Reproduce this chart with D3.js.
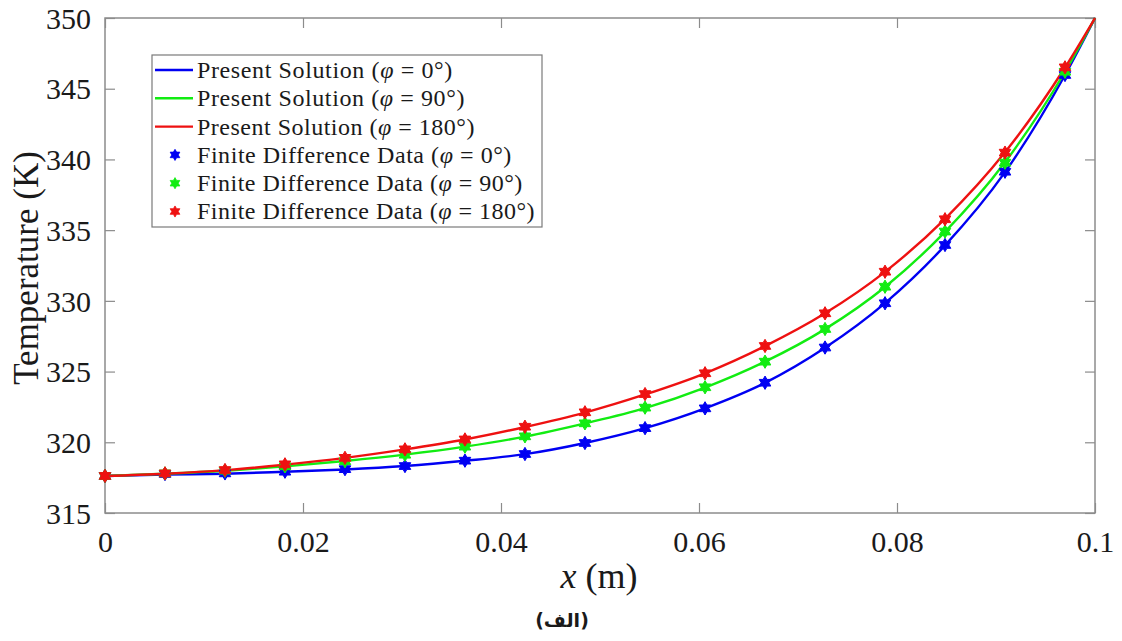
<!DOCTYPE html>
<html>
<head>
<meta charset="utf-8">
<script src="https://cdn.jsdelivr.net/npm/d3@7"></script>
<style>
  html, body { margin: 0; padding: 0; background: #fff; }
  svg { display: block; }
  .serif { font-family: "Liberation Serif", "Tinos", "Times New Roman", "DejaVu Serif", serif; fill: #1a1a1a; }
</style>
</head>
<body>
<svg id="chart" width="1122" height="641"></svg>
<script>
// Axial position (m) of the sample points
const xSamples = [0, 0.00606, 0.01212, 0.01818, 0.02424, 0.0303, 0.03636, 0.04242, 0.04848,
                  0.05455, 0.06061, 0.06667, 0.07273, 0.07879, 0.08485, 0.09091, 0.09697];
// Analytical curve also runs to the wall at x = 0.1
const xLine = xSamples.concat([0.1]);

// Present solution, temperature (K)
const solution0   = [317.62, 317.72, 317.78, 317.92, 318.08, 318.32, 318.69, 319.16, 319.95,
                     321.0, 322.4, 324.2, 326.68, 329.84, 333.92, 339.1, 345.97, 350];
const solution90  = [317.62, 317.78, 317.99, 318.3, 318.68, 319.13, 319.69, 320.4, 321.34,
                     322.42, 323.87, 325.7, 328.0, 330.98, 334.88, 339.8, 346.2, 350];
const solution180 = [317.62, 317.78, 318.03, 318.42, 318.9, 319.5, 320.2, 321.08, 322.1,
                     323.38, 324.88, 326.8, 329.12, 332.05, 335.8, 340.5, 346.5, 350];

// Finite difference data, temperature (K)
const fd0   = [317.62, 317.76, 317.8, 317.92, 318.1, 318.32, 318.7, 319.17, 319.95,
               321.0, 322.4, 324.21, 326.7, 329.83, 333.95, 339.13, 345.97];
const fd90  = [317.62, 317.8, 317.99, 318.3, 318.66, 319.12, 319.69, 320.42, 321.34,
               322.45, 323.89, 325.7, 328.01, 331.0, 334.9, 339.77, 346.2];
const fd180 = [317.62, 317.8, 318.04, 318.44, 318.9, 319.5, 320.2, 321.1, 322.12,
               323.41, 324.88, 326.81, 329.12, 332.06, 335.77, 340.48, 346.51];

const xTicks = [0, 0.02, 0.04, 0.06, 0.08, 0.1];
const xTickLabels = ["0", "0.02", "0.04", "0.06", "0.08", "0.1"];
const yTicks = [315, 320, 325, 330, 335, 340, 345, 350];

const seriesNames = ["0", "90", "180"];
const colors = ["#0000f2", "#12ec12", "#ee1111"];

const svg = d3.select("#chart");
const margin = { left: 105, right: 1095, top: 18, bottom: 513 };

const x = d3.scaleLinear().domain([0, 0.1]).range([margin.left, margin.right]);
const y = d3.scaleLinear().domain([315, 350]).range([margin.bottom, margin.top]);

const axisColor = "#8c8c8c";
const tickLen = 10;

// Plot frame
svg.append("rect")
  .attr("x", margin.left).attr("y", margin.top)
  .attr("width", margin.right - margin.left).attr("height", margin.bottom - margin.top)
  .attr("fill", "none").attr("stroke", axisColor).attr("stroke-width", 1.5);

// Bottom axis with inward ticks
const gx = svg.append("g").attr("transform", `translate(0,${margin.bottom})`)
  .call(d3.axisBottom(x).tickValues(xTicks).tickSize(-tickLen).tickPadding(17)
    .tickFormat((d, i) => xTickLabels[i]));
// Top axis ticks
const gxt = svg.append("g").attr("transform", `translate(0,${margin.top})`)
  .call(d3.axisTop(x).tickValues(xTicks).tickSize(-tickLen).tickFormat(""));
// Left axis
const gy = svg.append("g").attr("transform", `translate(${margin.left},0)`)
  .call(d3.axisLeft(y).tickValues(yTicks).tickSize(-tickLen).tickPadding(14)
    .tickFormat(d3.format("d")));
// Right axis ticks
const gyr = svg.append("g").attr("transform", `translate(${margin.right},0)`)
  .call(d3.axisRight(y).tickValues(yTicks).tickSize(-tickLen).tickFormat(""));

[gx, gxt, gy, gyr].forEach(g => {
  g.attr("font-family", null).attr("font-size", null);
  g.select(".domain").remove();
  g.selectAll(".tick line").attr("stroke", axisColor).attr("stroke-width", 1.2);
  g.selectAll(".tick text")
    .attr("class", "serif")
    .attr("font-size", 30).attr("fill", "#1a1a1a");
});
gy.selectAll(".tick text").attr("dy", "0.34em");
gx.selectAll(".tick text").attr("dy", "0.72em");

// Clip for lines
svg.append("clipPath").attr("id", "plotClip").append("rect")
  .attr("x", margin.left).attr("y", margin.top - 2)
  .attr("width", margin.right - margin.left + 1).attr("height", margin.bottom - margin.top + 2);

const solutions = [solution0, solution90, solution180];
const fds = [fd0, fd90, fd180];

const line = d3.line()
  .x((d, i) => x(xLine[i]))
  .y(d => y(d))
  .curve(d3.curveMonotoneX);

const plot = svg.append("g").attr("clip-path", "url(#plotClip)");
solutions.forEach((s, k) => {
  plot.append("path")
    .datum(s)
    .attr("d", line)
    .attr("fill", "none")
    .attr("stroke", colors[k])
    .attr("stroke-width", 2.4)
    .attr("stroke-linejoin", "round");
});

// Six-pointed star marker
const hexagram = {
  draw(context, size) {
    const r = Math.sqrt(size / 1.8);
    const ri = r / Math.sqrt(3);
    for (let i = 0; i < 12; i++) {
      const a = -Math.PI / 2 + i * Math.PI / 6;
      const rr = i % 2 === 0 ? r : ri;
      const px = rr * Math.cos(a), py = rr * Math.sin(a);
      if (i === 0) context.moveTo(px, py); else context.lineTo(px, py);
    }
    context.closePath();
  }
};
const markerPath = d3.symbol().type(hexagram).size(80)();
const legendMarkerPath = d3.symbol().type(hexagram).size(56)();

fds.forEach((s, k) => {
  svg.append("g").selectAll("path")
    .data(s)
    .join("path")
    .attr("transform", (d, i) => `translate(${x(xSamples[i])},${y(d)})`)
    .attr("d", markerPath)
    .attr("fill", colors[k])
    .attr("stroke", colors[k])
    .attr("stroke-width", 1);
});

// Axis titles
svg.append("text")
  .attr("class", "serif")
  .attr("x", 599).attr("y", 588)
  .attr("text-anchor", "middle")
  .attr("font-size", 36)
  .call(t => {
    t.append("tspan").attr("font-style", "italic").text("x");
    t.append("tspan").text(" (m)");
  });

svg.append("text")
  .attr("class", "serif")
  .attr("transform", "translate(38,268) rotate(-90)")
  .attr("text-anchor", "middle")
  .attr("font-size", 35)
  .text("Temperature (K)");

// Legend
const legend = svg.append("g");
legend.append("rect")
  .attr("x", 152).attr("y", 55).attr("width", 390).attr("height", 172)
  .attr("fill", "#fff").attr("stroke", "#7a7a7a").attr("stroke-width", 1.2);

const rowY = d3.range(6).map(i => 70 + i * 28.3);
const legendFont = 24;
// Right edge of each legend entry
const entryRight = [453, 465, 475, 512, 523, 535];
const textLeft = 197;

function legendLabel(g, prefix, angle) {
  g.append("tspan").text(prefix + " (");
  g.append("tspan").attr("font-style", "italic").text("φ");
  g.append("tspan").text(" = " + angle + "°)");
}
function fitWidth(t, target) {
  const node = t.node();
  const w = node.getComputedTextLength();
  const n = node.textContent.length;
  if (n > 1) t.attr("letter-spacing", ((target - w) / n).toFixed(2));
}
seriesNames.forEach((name, k) => {
  legend.append("line")
    .attr("x1", 155).attr("x2", 193)
    .attr("y1", rowY[k]).attr("y2", rowY[k])
    .attr("stroke", colors[k]).attr("stroke-width", 2.4);
  const t = legend.append("text")
    .attr("class", "serif")
    .attr("x", textLeft).attr("y", rowY[k]).attr("dy", "0.33em")
    .attr("font-size", legendFont)
    .call(t => legendLabel(t, "Present Solution", name));
  fitWidth(t, entryRight[k] - textLeft);
});
seriesNames.forEach((name, k) => {
  const yy = rowY[k + 3];
  legend.append("path")
    .attr("transform", `translate(175,${yy})`)
    .attr("d", legendMarkerPath)
    .attr("fill", colors[k]).attr("stroke", colors[k]).attr("stroke-width", 0.8);
  const t = legend.append("text")
    .attr("class", "serif")
    .attr("x", textLeft).attr("y", yy).attr("dy", "0.33em")
    .attr("font-size", legendFont)
    .call(t => legendLabel(t, "Finite Difference Data", name));
  fitWidth(t, entryRight[k + 3] - textLeft);
});

// Panel caption
svg.append("text")
  .attr("x", 562).attr("y", 627)
  .attr("text-anchor", "middle")
  .attr("font-family", "DejaVu Sans, Noto Sans, sans-serif")
  .attr("font-weight", "bold")
  .attr("font-size", 19)
  .attr("fill", "#1a1a1a")
  .attr("direction", "rtl")
  .text("(الف)");
</script>
</body>
</html>
